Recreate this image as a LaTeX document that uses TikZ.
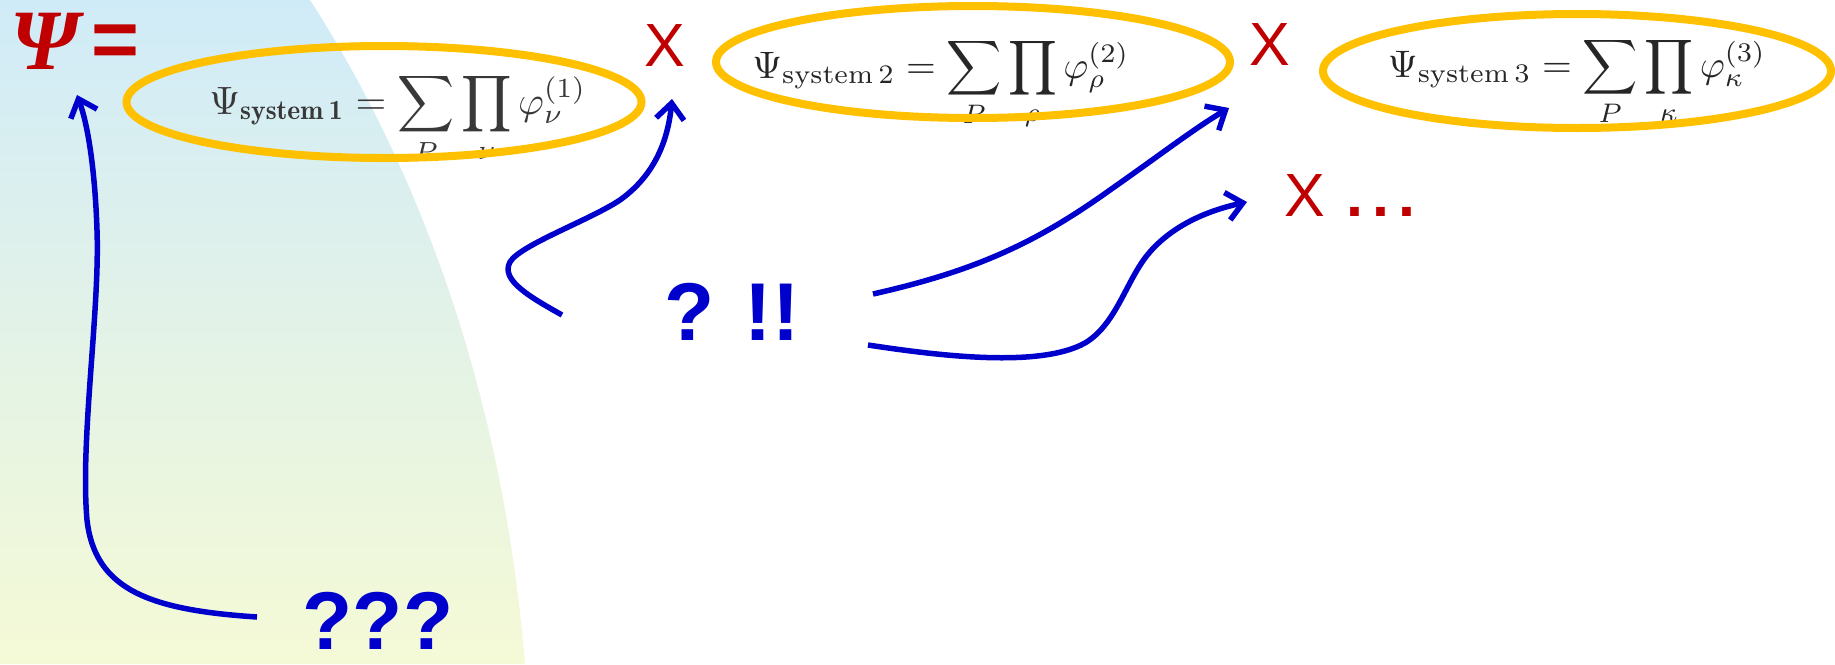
\documentclass[tikz,border=0pt]{standalone}
\usepackage{fontspec}
\usepackage{graphicx}
\usetikzlibrary{arrows.meta,shapes.geometric}
\newfontfamily\arialf{Liberation Sans}
\newfontfamily\timesf{Liberation Serif}
\definecolor{psired}{HTML}{C00000}
\definecolor{arrblue}{HTML}{0000CC}
\definecolor{ringorange}{HTML}{FFC000}
\definecolor{bgtop}{HTML}{D0EBF8}
\definecolor{bgbot}{HTML}{F5FAD6}
\begin{document}
\begin{tikzpicture}[x=1pt,y=-1pt,
  ring/.style={draw=ringorange,line width=8pt,ellipse,inner sep=0pt},
  conn/.style={draw=arrblue,line width=5.5pt,-{Straight Barb[length=16pt,width=28pt]}},
  redtxt/.style={text=psired,inner sep=0pt,font=\arialf\fontsize{61}{61}\selectfont},
  bluetxt/.style={text=arrblue,inner sep=0pt,font=\arialf\bfseries\fontsize{82}{82}\selectfont},
  formula/.style={inner sep=0pt,anchor=base}]
\useasboundingbox (0,0) rectangle (1835,664);
\shade[top color=bgtop,bottom color=bgbot] (0,0) -- (310,0) .. controls (400,140) and (500,360) .. (525,664) -- (0,664) -- cycle;

% formulas
\node[formula,text=black!78] (f1) at (398,114) {\resizebox{377pt}{!}{$\displaystyle \Psi_{\mathbf{system\,1}} = \sum_P \prod_\nu \varphi_\nu^{(1)}$}};
\node[formula,text=black!85] (f2) at (941,78) {\resizebox{377pt}{!}{$\displaystyle \Psi_{\mathrm{system\,2}} = \sum_P \prod_\rho \varphi_\rho^{(2)}$}};
\node[formula,text=black!85] (f3) at (1577,77) {\resizebox{378pt}{!}{$\displaystyle \Psi_{\mathrm{system\,3}} = \sum_P \prod_\kappa \varphi_\kappa^{(3)}$}};

% rings
\node[ring,minimum width=515pt,minimum height=112pt] (e1) at (384,102) {};
\node[ring,minimum width=514pt,minimum height=112pt] (e2) at (973,62) {};
\node[ring,minimum width=508pt,minimum height=114pt] (e3) at (1577,71) {};

% red texts
\node[text=psired,inner sep=0pt,font=\timesf\bfseries\itshape\fontsize{86}{86}\selectfont] (psi) at (45,41) {Ψ};
\node[text=psired,inner sep=0pt,font=\arialf\bfseries\fontsize{82}{82}\selectfont] (eq) at (115,46) {=};
\node[redtxt] (x1) at (665,46) {X};
\node[redtxt] (x2) at (1270,45) {X};
\node[redtxt,anchor=west] (x3) at (1284,196) {X\kern22pt\textbf{.\kern9pt.\kern9pt.}};

% blue texts
\node[bluetxt] (qe) at (732,312) {? !!};
\node[bluetxt] (q3) at (378,621) {???};

% arrows
\draw[conn] ([shift={(-121,-4)}]q3.center) .. controls (150,610) and (95,590) .. (87,520)
  .. controls (80,440) and (100,310) .. (97,230)
  .. controls (95,170) and (88,125) .. ([shift={(32,54)}]psi.center);
\draw[conn] ([shift={(-170,3)}]qe.center) .. controls (530,297) and (500,280) .. (510,262)
  .. controls (520,245) and (590,220) .. (620,200)
  .. controls (655,175) and (668,140) .. ([shift={(7,53)}]x1.center);
\draw[conn] ([shift={(141,-18)}]qe.center) .. controls (980,270) and (1040,240) .. (1110,190)
  .. controls (1160,155) and (1195,128) .. ([shift={(-41,63)}]x2.center);
\draw[conn] ([shift={(136,33)}]qe.center) .. controls (940,356) and (1040,368) .. (1085,343)
  .. controls (1115,325) and (1125,285) .. (1145,258)
  .. controls (1170,225) and (1210,210) .. ([shift={(-37,6)}]x3.west);
\end{tikzpicture}
\end{document}
